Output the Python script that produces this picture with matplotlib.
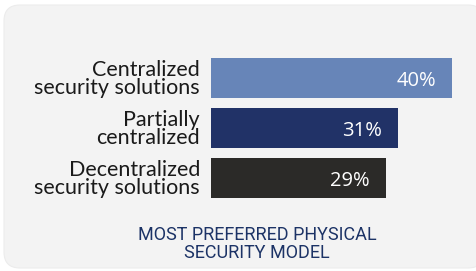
import matplotlib
matplotlib.use('Agg')
import matplotlib.pyplot as plt
from matplotlib.patches import FancyBboxPatch

# Data
categories = ['Centralized\nsecurity solutions', 'Partially\ncentralized', 'Decentralized\nsecurity solutions']
values = [40, 31, 29]
value_labels = ['40%', '31%', '29%']
bar_colors = ['#6785b8', '#213267', '#2b2a28']
title = 'MOST PREFERRED PHYSICAL\nSECURITY MODEL'

W, H = 476, 271
fig = plt.figure(figsize=(W / 100, H / 100), dpi=100)
fig.patch.set_facecolor('white')

# background panel with rounded corners, drawn in pixel coords
bg = fig.add_axes([0, 0, 1, 1])
bg.set_xlim(0, W)
bg.set_ylim(H, 0)
bg.axis('off')
bg.add_patch(FancyBboxPatch((4, 5), 480, 263, boxstyle='round,pad=0,rounding_size=16',
                            facecolor='#f3f3f3', edgecolor='#ececec', linewidth=0.8))

# bar axes
ax = fig.add_axes([211 / W, (H - 203) / H, 241 / W, 150 / H])
ax.set_facecolor('none')
y = list(range(len(values)))
ax.barh(y, values, height=0.8, color=bar_colors, edgecolor='none')
ax.set_xlim(0, 40)
ax.set_ylim(2.5, -0.5)

for yi, v, lab in zip(y, values, value_labels):
    ax.text(v - 2.6, yi + 0.05, lab, ha='right', va='center', color='white',
            fontsize=14.5, family='Open Sans')

ax.set_yticks(y)
ax.set_yticklabels(categories, fontsize=15.5, family='Lato', color='#1a1a1a',
                   linespacing=0.86)
ax.tick_params(axis='y', length=0, pad=8)
ax.set_xticks([])
for s in ax.spines.values():
    s.set_visible(False)

fig.text(257 / W, 1 - 244.5 / H, title, ha='center', va='center', fontsize=13,
         family='Roboto', color='#1c3366', linespacing=1.0)

fig.savefig('out.png', dpi=100)
